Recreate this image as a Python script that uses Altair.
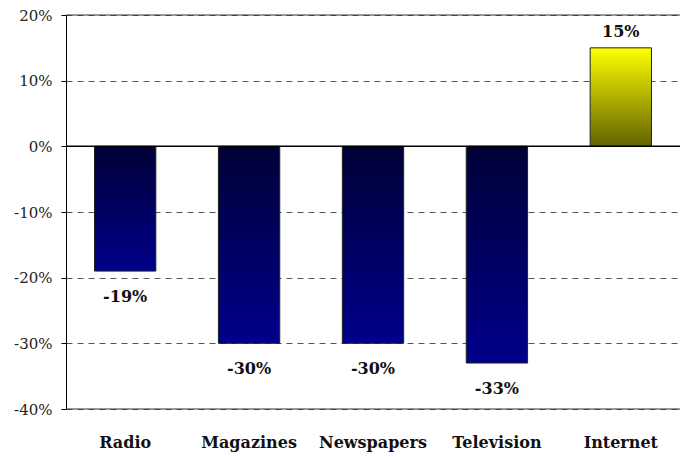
import altair as alt
import pandas as pd

categories = ["Radio", "Magazines", "Newspapers", "Television", "Internet"]
values = [-0.19, -0.30, -0.30, -0.33, 0.15]
labels = ["-19%", "-30%", "-30%", "-33%", "15%"]
y_ticks = [-0.4, -0.3, -0.2, -0.1, 0.0, 0.1, 0.2]

df = pd.DataFrame({"cat": categories, "val": values, "lab": labels})

FONT = "DejaVu Serif"

x_enc = alt.X(
    "cat:N", sort=categories,
    scale=alt.Scale(paddingInner=0.505, paddingOuter=0.23),
    axis=alt.Axis(title=None, labelAngle=0, domain=False, ticks=False,
                  labelFont=FONT, labelFontWeight="bold", labelFontSize=16,
                  labelColor="#111", labelPadding=25, orient="bottom"),
)
y_scale = alt.Scale(domain=[-0.4, 0.2], nice=False, zero=False)
y_enc = alt.Y(
    "val:Q", scale=y_scale,
    axis=alt.Axis(title=None, values=y_ticks,
                  labelExpr="round(datum.value*100) + '%'",
                  labelFont=FONT, labelFontSize=15, labelColor="#222",
                  labelPadding=9, domainColor="black", tickColor="black",
                  tickSize=5, grid=True, gridDash=[6, 5], gridColor="#555",
                  gridWidth=1),
)

neg_grad = alt.Gradient(
    gradient="linear",
    stops=[alt.GradientStop(color="#000036", offset=0),
           alt.GradientStop(color="#00008c", offset=1)],
    x1=0, x2=0, y1=0, y2=1,
)
pos_grad = alt.Gradient(
    gradient="linear",
    stops=[alt.GradientStop(color="#ffff00", offset=0),
           alt.GradientStop(color="#626200", offset=1)],
    x1=0, x2=0, y1=0, y2=1,
)

base = alt.Chart(df)

neg_bars = base.transform_filter("datum.val < 0").mark_bar(
    color=neg_grad, stroke="#222", strokeWidth=1
).encode(x=x_enc, y=y_enc)

pos_bars = base.transform_filter("datum.val >= 0").mark_bar(
    color=pos_grad, stroke="#222", strokeWidth=1
).encode(x=x_enc, y=y_enc)

neg_text = base.transform_filter("datum.val < 0").mark_text(
    font=FONT, fontWeight="bold", fontSize=16, color="#111",
    baseline="middle", dy=26
).encode(x=x_enc, y=y_enc, text="lab:N")

pos_text = base.transform_filter("datum.val >= 0").mark_text(
    font=FONT, fontWeight="bold", fontSize=16, color="#111",
    baseline="middle", dy=-16
).encode(x=x_enc, y=y_enc, text="lab:N")

edges = alt.Chart(pd.DataFrame({"val": [0.2, -0.4]})).mark_rule(
    color="#333", strokeWidth=1
).encode(y=alt.Y("val:Q", scale=y_scale))

zero = alt.Chart(pd.DataFrame({"val": [0.0]})).mark_rule(
    color="black", strokeWidth=1.5
).encode(y=alt.Y("val:Q", scale=y_scale))

chart = alt.layer(edges, neg_bars, pos_bars, zero, neg_text, pos_text).properties(
    width=614, height=394,
    autosize=alt.AutoSizeParams(type="none"),
    padding={"left": 66, "top": 15, "right": 10, "bottom": 48},
    background="white",
).configure_view(stroke=None)

chart.save("out.html", embed_options={"renderer": "svg", "actions": False})
